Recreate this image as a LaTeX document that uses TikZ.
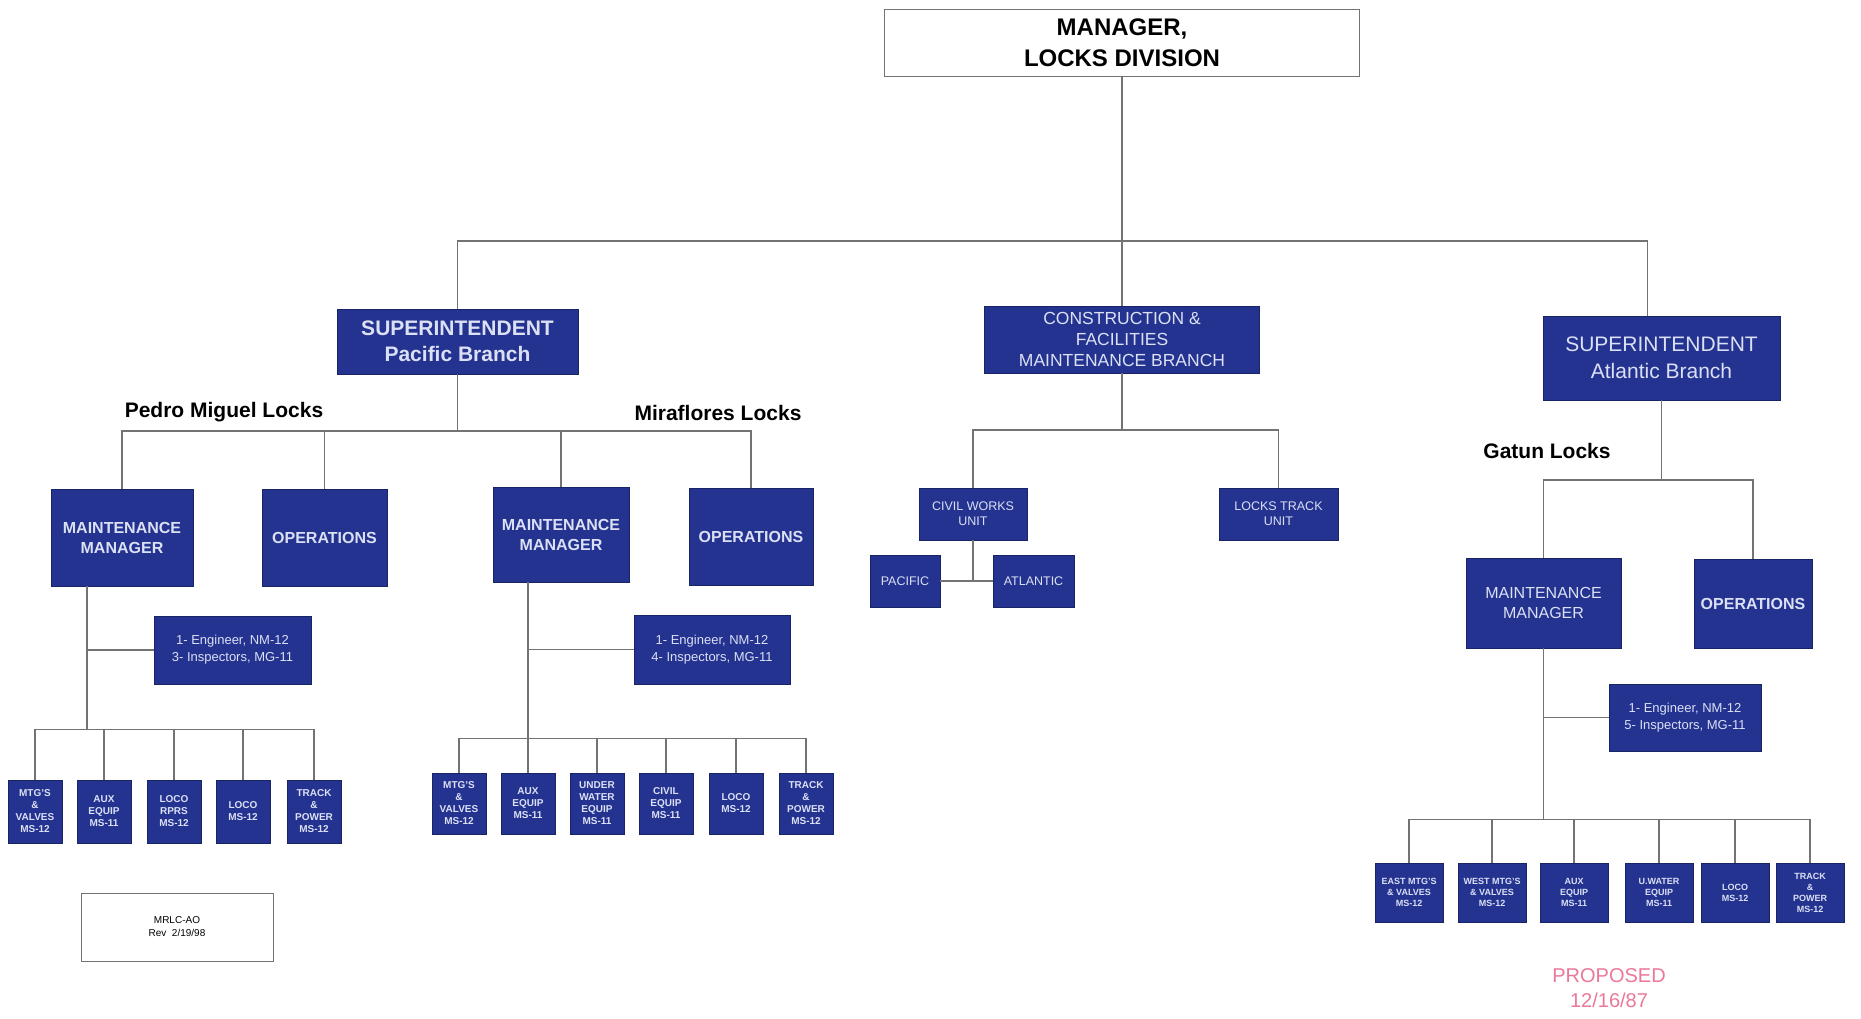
\documentclass[tikz,border=0pt]{standalone}
\usepackage{fontspec}
\setmainfont{Liberation Sans}
\definecolor{orgblue}{rgb}{0.14,0.20,0.56}
\definecolor{orgtext}{rgb}{0.86,0.88,0.96}
\definecolor{orgline}{gray}{0.45}
\definecolor{proposed}{rgb}{0.92,0.47,0.60}

\begin{document}
\begin{tikzpicture}[x=1pt, y=-1pt,
                    orgbox/.style={rectangle, draw=orgblue!70!black, fill=orgblue, text=orgtext, align=center, inner sep=2pt, line width=0.8pt},
                    smallbox/.style={orgbox, font=\fontsize{10}{12}\selectfont\bfseries},
                    locklabel/.style={font=\fontsize{21}{24}\selectfont\bfseries},
                    wire/.style={draw=orgline, line width=1.2pt}]
  \useasboundingbox (0,0) rectangle (1861,1018);
  \node[rectangle, draw=orgline, fill=white, line width=1pt, minimum width=475, minimum height=67, align=center,
        font=\fontsize{24}{31}\selectfont\bfseries] (mgr) at (1122,42.5) {MANAGER,\\LOCKS DIVISION};
  \node[orgbox, minimum width=241, minimum height=65, font=\fontsize{21}{26}\selectfont\bfseries] (supP) at (457.5,341.5) {SUPERINTENDENT\\Pacific Branch};
  \node[orgbox, minimum width=275, minimum height=67, font=\fontsize{17.5}{21}\selectfont] (cfm) at (1122,339.5) {CONSTRUCTION \&\\FACILITIES\\MAINTENANCE BRANCH};
  \node[orgbox, minimum width=237, minimum height=84, font=\fontsize{21}{27}\selectfont] (supA) at (1661.5,358) {SUPERINTENDENT\\Atlantic Branch};

  \node[orgbox, minimum width=142, minimum height=97, font=\fontsize{16}{20}\selectfont\bfseries] (mmP) at (122,537.5) {MAINTENANCE\\MANAGER};
  \node[orgbox, minimum width=125, minimum height=97, font=\fontsize{16}{20}\selectfont\bfseries] (opP) at (324.5,537.5) {OPERATIONS};
  \node[orgbox, minimum width=136, minimum height=95, font=\fontsize{16}{20}\selectfont\bfseries] (mmM) at (561,534.5) {MAINTENANCE\\MANAGER};
  \node[orgbox, minimum width=124, minimum height=97, font=\fontsize{16}{20}\selectfont\bfseries] (opM) at (751,536.5) {OPERATIONS};
  \node[orgbox, minimum width=155, minimum height=90, font=\fontsize{16}{20}\selectfont] (mmG) at (1543.5,603) {MAINTENANCE\\MANAGER};
  \node[orgbox, minimum width=118, minimum height=89, font=\fontsize{16}{20}\selectfont\bfseries] (opG) at (1753,603.5) {OPERATIONS};

  \node[orgbox, minimum width=157, minimum height=68, font=\fontsize{13}{17}\selectfont] (engP) at (232.5,650) {1- Engineer, NM-12\\3- Inspectors, MG-11};
  \node[orgbox, minimum width=156, minimum height=69, font=\fontsize{13}{17}\selectfont] (engM) at (712,649.5) {1- Engineer, NM-12\\4- Inspectors, MG-11};
  \node[orgbox, minimum width=152, minimum height=67, font=\fontsize{13}{17}\selectfont] (engG) at (1685,717.5) {1- Engineer, NM-12\\5- Inspectors, MG-11};

  \node[orgbox, minimum width=108, minimum height=52, font=\fontsize{12.5}{15}\selectfont] (civ) at (973,514) {CIVIL WORKS\\UNIT};
  \node[orgbox, minimum width=119, minimum height=52, font=\fontsize{12.5}{15}\selectfont] (trk) at (1278.5,514) {LOCKS TRACK\\UNIT};
  \node[orgbox, minimum width=70, minimum height=52, font=\fontsize{12.5}{15}\selectfont] (pac) at (905,581) {PACIFIC};
  \node[orgbox, minimum width=81, minimum height=52, font=\fontsize{12.5}{15}\selectfont] (atl) at (1033.5,581) {ATLANTIC};

  \node[locklabel] (pedro) at (224,412) {Pedro Miguel Locks};
  \node[locklabel] (mira) at (718,413) {Miraflores Locks};
  \node[locklabel] (gatun) at (1547,451) {Gatun Locks};

  \foreach \x/\name/\txt in {35/p1/{MTG'S\\\&\\VALVES\\MS-12}, 104/p2/{AUX\\EQUIP\\MS-11}, 174/p3/{LOCO\\RPRS\\MS-12},
                             243/p4/{LOCO\\MS-12}, 314/p5/{TRACK\\\&\\POWER\\MS-12}}
    \node[smallbox, minimum width=54, minimum height=63] (\name) at (\x,811.5) {\txt};
  \foreach \x/\name/\txt in {459/m1/{MTG'S\\\&\\VALVES\\MS-12}, 528/m2/{AUX\\EQUIP\\MS-11}, 597/m3/{UNDER\\WATER\\EQUIP\\MS-11},
                             666/m4/{CIVIL\\EQUIP\\MS-11}, 736/m5/{LOCO\\MS-12}, 806/m6/{TRACK\\\&\\POWER\\MS-12}}
    \node[smallbox, minimum width=54, minimum height=61] (\name) at (\x,803.5) {\txt};
  \foreach \x/\name/\txt in {1409/g1/{EAST MTG'S\\\& VALVES\\MS-12}, 1492/g2/{WEST MTG'S\\\& VALVES\\MS-12}, 1574/g3/{AUX\\EQUIP\\MS-11},
                             1659/g4/{U.WATER\\EQUIP\\MS-11}, 1735/g5/{LOCO\\MS-12}, 1810/g6/{TRACK\\\&\\POWER\\MS-12}}
    \node[smallbox, minimum width=68, minimum height=59, font=\fontsize{9}{11}\selectfont\bfseries] (\name) at (\x,892.5) {\txt};

  \node[rectangle, draw=orgline, line width=0.8pt, minimum width=192, minimum height=68, align=center,
        font=\fontsize{10}{13}\selectfont] (note) at (177,927) {MRLC-AO\\Rev~~2/19/98};
  \node[text=proposed, align=center, font=\fontsize{20}{25}\selectfont] (prop) at (1609,988) {PROPOSED\\12/16/87};

  \coordinate (tbus) at (1122,241);
  \coordinate (pbus) at (0,431);
  \coordinate (cbus) at (1122,430);
  \coordinate (gbus) at (0,480);

  \draw[wire] (mgr.south) -- (cfm.north);
  \draw[wire] (supP.north) |- ([xshift=-14pt]supA.north |- tbus) -- ([xshift=-14pt]supA.north);

  \draw[wire] (mmP.north) |- (pbus -| opM.north) -- (opM.north);
  \foreach \n in {supP.south, opP.north, mmM.north}
    \draw[wire] (\n) -- (\n |- pbus);
  \draw[wire] ([xshift=-35pt]mmP.south) |- (engP.west);
  \draw[wire] ([xshift=-35pt]mmP.south) -- ++(0,143) coordinate (pb);
  \draw[wire] (p1.north) |- (pb -| p5.north) -- (p5.north);
  \foreach \n in {p2, p3, p4}
    \draw[wire] (\n.north) -- (\n.north |- pb);
  \draw[wire] ([xshift=-33pt]mmM.south) |- (engM.west);
  \draw[wire] ([xshift=-33pt]mmM.south) -- ++(0,156) coordinate (mb);
  \draw[wire] (m1.north) |- (mb -| m6.north) -- (m6.north);
  \foreach \n in {m2, m3, m4, m5}
    \draw[wire] (\n.north) -- (\n.north |- mb);

  \draw[wire] (cfm.south) -- (cbus);
  \draw[wire] (civ.north) |- (cbus -| trk.north) -- (trk.north);
  \draw[wire] (civ.south) -- (civ.south |- pac.east);
  \draw[wire] (pac.east) -- (atl.west);

  \draw[wire] (supA.south) -- (supA.south |- gbus);
  \draw[wire] (mmG.north) |- (gbus -| opG.north) -- (opG.north);
  \draw[wire] (mmG.south) |- (engG.west);
  \draw[wire] (mmG.south) -- ++(0,171) coordinate (gb);
  \draw[wire] (g1.north) |- (gb -| g6.north) -- (g6.north);
  \foreach \n in {g2, g3, g4, g5}
    \draw[wire] (\n.north) -- (\n.north |- gb);
\end{tikzpicture}
\end{document}
